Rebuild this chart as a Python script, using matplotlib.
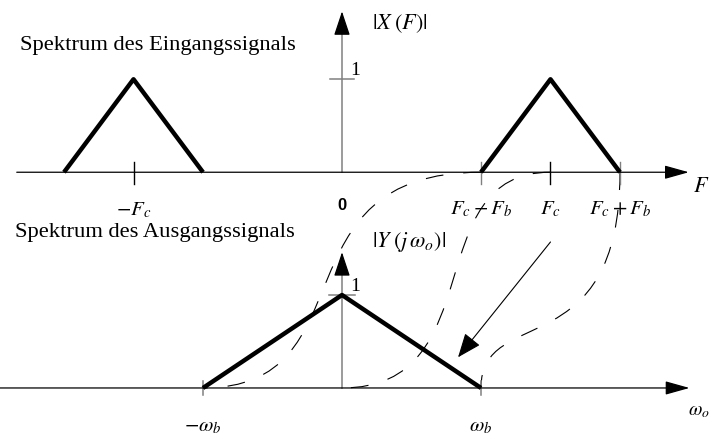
import numpy as np
import matplotlib
matplotlib.use('Agg')
import matplotlib.pyplot as plt
from matplotlib.path import Path
from matplotlib.patches import PathPatch

plt.rcParams['font.family'] = ['Liberation Serif', 'DejaVu Serif']
plt.rcParams['mathtext.fontset'] = 'stix'

# carrier / band parameters (display units)
F_c = 3.0
F_b = 1.0
w_b = 2.0

# input spectrum |X(F)|: two triangles around -F_c and +F_c
x_in_left = [-F_c - F_b, -F_c, -F_c + F_b]
x_in_right = [F_c - F_b, F_c, F_c + F_b]
mag_in = [0.0, 1.0, 0.0]

# output spectrum |Y(j w_o)|: one triangle at baseband
x_out = [-w_b, 0.0, w_b]
mag_out = [0.0, 1.0, 0.0]

# which input frequency lands on which output frequency
map_from = [F_c - F_b, F_c, F_c + F_b]
map_to = [-w_b, 0.0, w_b]

# vertical offset of the upper spectrum
y_top = 2.32

# bezier handles for the dashed mapping curves
curve_handles = [
    [(-1.0, y_top), (0.42, 0.0)],
    [(1.08, y_top), (2.18, 0.0)],
    [(4.0, 0.22), (2.0, 0.91)],
]

fig = plt.figure(figsize=(7.09, 4.39), dpi=100, facecolor='white')
ax = fig.add_axes([0, 0, 1, 1])
ax.set_xlim(-4.921, 5.281)
ax.set_ylim(-0.538, 4.183)
ax.axis('off')

gray = '#808080'
head = '-|>,head_length=1.5,head_width=0.42'


def arrow_head(x0, y0, x1, y1, hw=0.42):
    ax.annotate('', xy=(x1, y1), xytext=(x0, y0),
                arrowprops=dict(arrowstyle='-|>,head_length=1.5,head_width=%g' % hw,
                                mutation_scale=10, color='black',
                                lw=0.9, shrinkA=0, shrinkB=0))


# horizontal axes (black, with arrow)
arrow_head(-4.68, y_top, 4.99, y_top)
arrow_head(-5.0, 0, 5.0, 0)

# vertical axes: gray shaft, black head
ax.plot([0, 0], [y_top, 3.85], color=gray, lw=1.1)
arrow_head(0, 3.84, 0, 4.05, hw=0.5)
ax.plot([0, 0], [0, 1.26], color=gray, lw=1.1)
arrow_head(0, 1.25, 0, 1.46, hw=0.5)

# ticks
ax.plot([-0.17, 0.17], [y_top + 1, y_top + 1], color=gray, lw=1.1)
ax.plot([-0.18, 0.18], [1, 1], color=gray, lw=1.1)
for xt, c in zip([-F_c, F_c - F_b, F_c, F_c + F_b], ['black', gray, 'black', gray]):
    ax.plot([xt, xt], [y_top + 0.11, y_top - 0.13], color=c, lw=1.0)
for xt in [-w_b, w_b]:
    ax.plot([xt, xt], [0.07, -0.08], color=gray, lw=1.1)

# spectra
ax.plot(x_in_left, np.array(mag_in) + y_top, color='black', lw=3.2, solid_capstyle='butt')
ax.plot(x_in_right, np.array(mag_in) + y_top, color='black', lw=3.2, solid_capstyle='butt')
ax.plot(x_out, mag_out, color='black', lw=3.2, solid_capstyle='butt')

# dashed frequency mapping curves
for f0, w0, (p1, p2) in zip(map_from, map_to, curve_handles):
    path = Path([(f0, y_top), p1, p2, (w0, 0.0)],
                [Path.MOVETO, Path.CURVE4, Path.CURVE4, Path.CURVE4])
    patch = PathPatch(path, facecolor='none', edgecolor='black', lw=0.8)
    patch.set_linestyle((0, (16, 18)))
    ax.add_patch(patch)

# pointer arrow
ax.annotate('', xy=(1.67, 0.33), xytext=(F_c, 1.57),
            arrowprops=dict(arrowstyle='-|>,head_length=1.5,head_width=0.6',
                            mutation_scale=10, color='black', lw=0.8,
                            shrinkA=0, shrinkB=0))

# labels
ax.text(-4.63, 3.69, 'Spektrum des Eingangssignals', fontsize=16.2, va='center', ha='left')
ax.text(-4.70, 1.68, 'Spektrum des Ausgangssignals', fontsize=16.2, va='center', ha='left')
ax.text(0.43, 3.87, r'$|X\;(F)|$', fontsize=16, va='baseline', ha='left')
ax.text(0.43, 1.53, r'$|Y\;(j\,\omega_o)|$', fontsize=16, va='baseline', ha='left')
ax.text(0.19, 3.43, '1', fontsize=14, va='center', ha='center')
ax.text(0.19, 1.10, '1', fontsize=14, va='center', ha='center')
ax.text(0, 1.97, '0', fontsize=12, fontweight='bold', family='Liberation Sans',
        va='center', ha='center')

ax.text(-F_c, 1.87, r'$-F_c$', fontsize=15, va='baseline', ha='center')
ax.text(F_c - F_b, 1.88, r'$F_c-F_b$', fontsize=15, va='baseline', ha='center')
ax.text(F_c, 1.88, r'$F_c$', fontsize=15, va='baseline', ha='center')
ax.text(F_c + F_b, 1.88, r'$F_c+F_b$', fontsize=15, va='baseline', ha='center')
ax.text(5.05, 2.12, r'$F$', fontsize=16, va='baseline', ha='left')

ax.text(-w_b, -0.46, r'$-\omega_b$', fontsize=15, va='baseline', ha='center')
ax.text(w_b, -0.46, r'$\omega_b$', fontsize=15, va='baseline', ha='center')
ax.text(4.98, -0.28, r'$\omega_o$', fontsize=14, va='baseline', ha='left')

fig.savefig('out.png', dpi=100)
